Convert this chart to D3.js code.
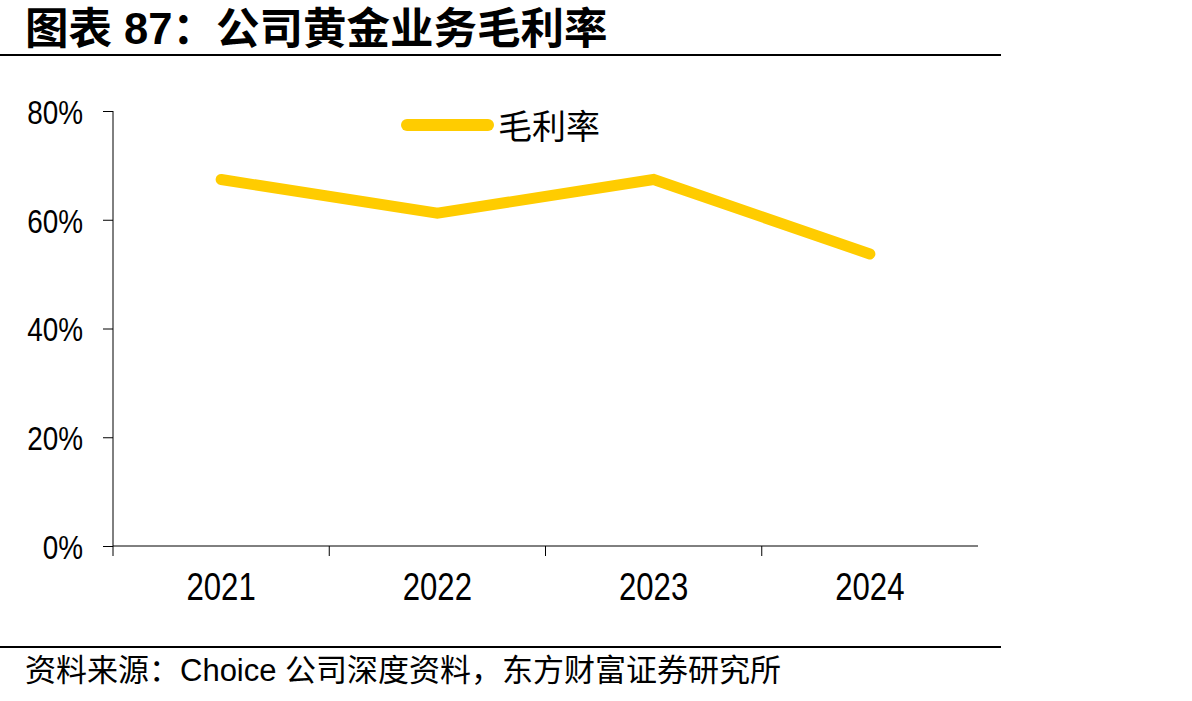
<!DOCTYPE html>
<html>
<head>
<meta charset="utf-8">
<script src="https://cdn.jsdelivr.net/npm/d3@7"></script>
<style>
	body { margin: 0; background: #fff; }
	svg text { font-family: "Liberation Sans", Arial, "Noto Sans CJK SC", sans-serif; }
</style>
</head>
<body>
<svg id="chart"></svg>
<script>
// Data.
var years = ["2021", "2022", "2023", "2024"];
var grossMargin = [67.4, 61.2, 67.4, 53.7];
var yTicks = [0, 20, 40, 60, 80];
var seriesName = "毛利率";

// Definitions.
var width = 1192;
var height = 701;
var plotLeft = 113;
var plotRight = 978;
var plotTop = 111;
var plotBottom = 546;
var lineColour = "#FFCC00";
var narrow = 0.82;  // Horizontal squeeze for the tick labels (no narrow font installed).

var svg = d3.select("#chart")
	.attr("width", width)
	.attr("height", height);

// Title and rules.
svg.append("text")
	.attr("x", 25)
	.attr("y", 44)
	.style("font-size", "43.5px")
	.style("font-weight", "bold")
	.text("图表 87：公司黄金业务毛利率");
svg.append("rect").attr("x", 0).attr("y", 54).attr("width", 1001).attr("height", 2).attr("fill", "#000");
svg.append("rect").attr("x", 0).attr("y", 646).attr("width", 1001).attr("height", 2).attr("fill", "#000");
svg.append("text")
	.attr("x", 25)
	.attr("y", 681)
	.style("font-size", "31px")
	.text("资料来源：Choice 公司深度资料，东方财富证券研究所");

// Scales.
var x = d3.scaleBand().domain(years).range([plotLeft, plotRight]);
var y = d3.scaleLinear().domain([0, 80]).range([plotBottom, plotTop]);

// Y axis.
var yAxis = svg.append("g")
	.attr("transform", "translate(" + plotLeft + ",0)")
	.call(d3.axisLeft(y).tickValues(yTicks).tickSize(10).tickFormat(function(d) { return d + "%"; }));
yAxis.select(".domain").remove();
yAxis.append("line").attr("x1", 0).attr("x2", 0).attr("y1", plotTop).attr("y2", plotBottom + 10).attr("stroke", "#000");
yAxis.selectAll(".tick text")
	.attr("x", -30 / narrow)
	.attr("transform", "scale(" + narrow + ",1)")
	.style("font-size", "34px")
	.attr("fill", "#000")
	.attr("dy", "0.36em");

// X axis.
var xAxis = svg.append("g")
	.attr("transform", "translate(0," + plotBottom + ")")
	.call(d3.axisBottom(x).tickSize(0).tickPadding(27));
xAxis.select(".domain").attr("d", "M" + plotLeft + ",0H" + plotRight);
xAxis.selectAll(".tick text")
	.attr("transform", "scale(" + narrow + ",1)")
	.style("font-size", "38px")
	.attr("fill", "#000")
	.attr("dy", "0.71em");
svg.append("g")
	.selectAll("line")
	.data(years.slice(1))
	.enter()
	.append("line")
	.attr("x1", function(d) { return x(d); })
	.attr("x2", function(d) { return x(d); })
	.attr("y1", plotBottom)
	.attr("y2", plotBottom + 10)
	.attr("stroke", "#000");

// Series line.
var line = d3.line()
	.x(function(d, i) { return x(years[i]) + x.bandwidth() / 2; })
	.y(function(d) { return y(d); });
svg.append("path")
	.datum(grossMargin)
	.attr("d", line)
	.attr("fill", "none")
	.attr("stroke", lineColour)
	.attr("stroke-width", 11)
	.attr("stroke-linecap", "round")
	.attr("stroke-linejoin", "miter");

// Legend.
svg.append("line")
	.attr("x1", 407).attr("x2", 488)
	.attr("y1", 125).attr("y2", 125)
	.attr("stroke", lineColour)
	.attr("stroke-width", 12)
	.attr("stroke-linecap", "round");
svg.append("text")
	.attr("x", 498)
	.attr("y", 139)
	.style("font-family", "'Noto Sans CJK SC', sans-serif")
	.style("font-size", "34px")
	.text(seriesName);
</script>
</body>
</html>
